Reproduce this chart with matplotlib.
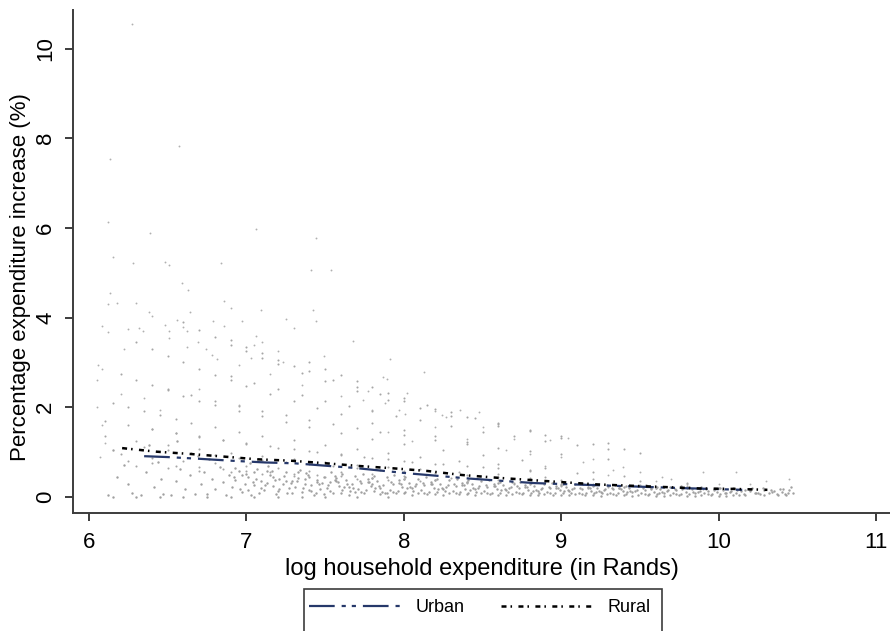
import matplotlib
matplotlib.use("Agg")
import matplotlib.pyplot as plt
from matplotlib.patches import Rectangle
from matplotlib.lines import Line2D

plt.rcParams['font.family'] = ['Liberation Sans', 'DejaVu Sans']
plt.rcParams['lines.scale_dashes'] = False

# ---------------- fitted lines ----------------
urban_x = [6.35, 6.50, 6.71, 6.90, 7.12, 7.31, 7.53, 7.68, 8.02, 8.42, 8.83, 9.25, 9.50, 9.75, 10.05, 10.15]
urban_y = [0.91, 0.89, 0.85, 0.81, 0.77, 0.75, 0.69, 0.65, 0.53, 0.41, 0.31, 0.26, 0.23, 0.20, 0.17, 0.16]
rural_x = [6.21, 6.43, 6.64, 6.86, 7.07, 7.28, 7.51, 7.72, 7.93, 8.15, 8.37, 8.59, 8.80, 9.01, 9.23, 9.45, 9.67, 9.88, 10.10, 10.31]
rural_y = [1.09, 1.01, 0.96, 0.90, 0.84, 0.81, 0.75, 0.69, 0.64, 0.58, 0.49, 0.43, 0.38, 0.33, 0.28, 0.25, 0.22, 0.19, 0.18, 0.16]

# ---------------- scatter: outlying points ----------------
out_x = [6.27, 6.57, 6.13, 6.12, 6.39, 7.06, 6.15, 6.28, 6.48, 6.51, 6.84, 7.44, 7.41, 7.54, 6.59, 6.63, 6.13,
         6.12, 6.18, 6.30, 6.38, 6.40, 6.64, 6.86, 6.90, 7.09, 7.42, 7.44, 7.25, 6.97, 6.79, 6.56, 6.08, 6.12,
         6.25, 6.32, 6.34, 6.48, 6.51, 6.60, 6.62, 6.51, 6.86, 7.30, 7.06, 7.10, 7.68, 7.91, 8.13, 7.87, 7.89,
         8.02, 6.22, 6.62, 6.69, 6.74, 6.78, 6.81, 7.05, 7.03, 7.23, 7.49, 7.77, 7.74, 7.97, 8.01, 8.20, 8.24,
         8.27, 8.36, 8.48, 7.88, 8.93, 9.04, 9.14, 9.33, 9.39, 9.64, 9.70, 9.90, 10.11, 10.45, 6.06, 6.08, 6.05,
         6.05, 6.08, 6.10, 6.07, 8.50, 8.70, 8.65, 8.80, 9.00, 9.20, 8.40, 8.90, 9.30, 9.50, 9.60, 9.80, 10.20,
         10.30, 10.00, 8.20, 8.05, 7.90, 6.20, 6.35, 6.45, 6.70, 6.95, 7.15, 7.35, 7.60, 7.80, 6.95, 7.20]
out_y = [10.55, 7.83, 7.54, 6.13, 5.89, 5.98, 5.35, 5.22, 5.24, 5.17, 5.22, 5.77, 5.06, 5.06, 4.77, 4.62, 4.55,
         4.30, 4.32, 4.32, 4.12, 4.04, 4.12, 4.37, 4.21, 4.17, 4.17, 3.92, 3.97, 3.92, 3.92, 3.95, 3.81, 3.68,
         3.75, 3.77, 3.70, 3.84, 3.70, 3.79, 3.70, 3.55, 3.81, 3.77, 3.59, 3.46, 3.48, 3.08, 2.79, 2.68, 2.63,
         2.32, 3.30, 3.34, 3.46, 3.30, 3.17, 3.08, 3.39, 3.10, 3.01, 3.14, 2.36, 2.16, 1.94, 1.85, 1.92, 1.83,
         1.78, 1.94, 1.90, 2.10, 1.27, 1.31, 0.78, 0.60, 0.67, 0.45, 0.41, 0.56, 0.56, 0.40, 2.94, 2.85, 2.61,
         2.00, 1.60, 1.20, 0.90, 1.55, 1.30, 1.05, 0.95, 0.90, 0.85, 1.30, 0.70, 0.50, 0.55, 0.35, 0.30, 0.30,
         0.35, 0.30, 1.55, 1.25, 1.45, 2.30, 2.20, 1.95, 2.40, 2.05, 2.75, 2.50, 2.25, 1.95, 2.95, 3.25]

# ---------------- scatter: streaks visible as curved rows ----------------
streak_x = [6.30, 6.40, 6.50, 6.60, 6.70, 6.80, 6.90, 7.00, 7.15, 7.30, 7.45, 7.60, 7.80, 8.00, 8.20, 8.40,
            6.20, 6.30, 6.40, 6.50, 6.60, 6.70, 6.80, 6.95, 7.10, 7.25, 7.40, 7.60, 7.80, 8.00, 8.25, 8.50, 8.75,
            6.15, 6.25, 6.35, 6.45, 6.55, 6.65, 6.80, 6.95, 7.10, 7.30, 7.50, 7.70, 7.90, 8.10, 8.35, 8.60, 8.90, 9.20,
            6.10, 6.25, 6.40, 6.55, 6.70, 6.85, 7.00, 7.20, 7.40, 7.60, 7.80, 8.00, 8.25, 8.50, 8.80, 9.10, 9.40,
            6.10, 6.30, 6.50, 6.70, 6.90, 7.10, 7.30, 7.50, 7.70, 7.90, 8.10, 8.35, 8.60, 8.90, 9.20, 9.50, 9.80,
            6.20, 6.40, 6.60, 6.80, 7.00, 7.20, 7.40, 7.60, 7.80, 8.00, 8.30, 8.60, 8.90, 9.20, 9.50, 9.80, 10.10,
            6.30, 6.50, 6.70, 6.90, 7.10, 7.30, 7.50, 7.70, 7.90, 8.10, 8.40, 8.70, 9.00, 9.30, 9.60, 9.90, 10.20,
            6.60, 6.70, 6.80, 6.90, 7.00, 7.10, 7.20, 7.35, 7.50, 7.70, 7.90, 8.10, 8.30, 8.60, 8.90,
            6.90, 7.00, 7.10, 7.20, 7.30, 7.40, 7.55, 7.70, 7.85, 8.00, 8.20, 8.40, 8.60, 8.80, 9.00, 9.30,
            7.40, 7.50, 7.60, 7.70, 7.80, 7.90, 8.00, 8.15, 8.30, 8.45, 8.60, 8.80, 9.00, 9.20, 9.40,
            6.40, 6.55, 6.70, 6.85, 7.00, 7.15, 7.30, 7.45, 7.60, 7.75, 7.90, 8.05, 8.20, 8.40, 8.60, 8.80,
            6.35, 6.50, 6.65, 6.80, 6.95, 7.10, 7.25, 7.40, 7.55, 7.70, 7.85, 8.00, 8.20, 8.40, 8.60, 8.80, 9.00,
            6.50, 6.65, 6.80, 6.95, 7.10, 7.25, 7.40, 7.55, 7.70, 7.85, 8.00, 8.20, 8.40, 8.60, 8.80, 9.00, 9.30,
            6.90, 7.05, 7.20, 7.35, 7.50, 7.65, 7.80, 7.95, 8.10, 8.30, 8.50, 8.70, 8.90, 9.10, 9.30, 9.50,
            6.25, 6.40, 6.55, 6.70, 6.85, 7.00, 7.15, 7.30, 7.45, 7.60, 7.80, 8.00, 8.20, 8.40, 8.70, 9.00, 9.30, 9.60]
streak_y = [3.45, 3.30, 3.15, 3.00, 2.86, 2.72, 2.60, 2.48, 2.30, 2.14, 1.98, 1.84, 1.66, 1.50, 1.35, 1.22,
            2.75, 2.62, 2.50, 2.38, 2.26, 2.15, 2.05, 1.92, 1.80, 1.68, 1.57, 1.43, 1.30, 1.18, 1.05, 0.93, 0.82,
            2.10, 2.00, 1.91, 1.82, 1.74, 1.66, 1.56, 1.46, 1.37, 1.26, 1.16, 1.07, 0.98, 0.90, 0.81, 0.73, 0.64, 0.56,
            1.70, 1.60, 1.51, 1.42, 1.34, 1.26, 1.19, 1.10, 1.02, 0.95, 0.88, 0.81, 0.74, 0.67, 0.60, 0.53, 0.47,
            1.35, 1.25, 1.15, 1.06, 0.98, 0.91, 0.84, 0.78, 0.72, 0.67, 0.62, 0.56, 0.51, 0.45, 0.40, 0.36, 0.32,
            0.95, 0.88, 0.81, 0.75, 0.69, 0.64, 0.59, 0.55, 0.51, 0.47, 0.42, 0.38, 0.34, 0.30, 0.27, 0.24, 0.21,
            0.70, 0.64, 0.59, 0.55, 0.51, 0.47, 0.44, 0.41, 0.38, 0.35, 0.32, 0.28, 0.25, 0.22, 0.20, 0.18, 0.16,
            3.90, 3.72, 3.56, 3.40, 3.25, 3.10, 2.96, 2.76, 2.58, 2.36, 2.16, 1.98, 1.81, 1.58, 1.38,
            3.50, 3.35, 3.20, 3.06, 2.93, 2.80, 2.62, 2.45, 2.29, 2.14, 1.96, 1.79, 1.64, 1.50, 1.37, 1.20,
            3.00, 2.85, 2.71, 2.58, 2.45, 2.33, 2.21, 2.05, 1.90, 1.76, 1.63, 1.47, 1.32, 1.19, 1.07,
            1.52, 1.43, 1.35, 1.27, 1.20, 1.13, 1.06, 1.00, 0.94, 0.89, 0.84, 0.79, 0.74, 0.69, 0.64, 0.59,
            1.12, 1.05, 0.99, 0.93, 0.88, 0.83, 0.78, 0.73, 0.69, 0.65, 0.61, 0.57, 0.53, 0.49, 0.45, 0.42, 0.39,
            2.40, 2.27, 2.15, 2.03, 1.92, 1.82, 1.72, 1.63, 1.54, 1.46, 1.38, 1.28, 1.19, 1.10, 1.02, 0.95, 0.85,
            2.70, 2.55, 2.41, 2.28, 2.15, 2.03, 1.92, 1.81, 1.71, 1.58, 1.46, 1.35, 1.25, 1.15, 1.06, 0.98,
            0.80, 0.75, 0.70, 0.66, 0.62, 0.58, 0.55, 0.52, 0.49, 0.46, 0.43, 0.40, 0.37, 0.34, 0.31, 0.28, 0.25, 0.22]

# ---------------- scatter: dense band near zero ----------------
band_x = [6.12, 6.18, 6.22, 6.27, 6.15, 6.25,
          6.33, 6.36, 6.41, 6.44, 6.47, 6.38, 6.46,
          6.52, 6.55, 6.58, 6.61, 6.64, 6.67, 6.69, 6.56,
          6.71, 6.73, 6.75, 6.78, 6.80, 6.83, 6.85, 6.87, 6.89, 6.76,
          6.91, 6.93, 6.95, 6.97, 6.99, 7.01, 7.03, 7.05, 7.07, 7.09, 7.02,
          7.11, 7.13, 7.15, 7.17, 7.19, 7.21, 7.23, 7.25, 7.27, 7.29, 7.14, 7.26,
          7.31, 7.33, 7.35, 7.37, 7.39, 7.41, 7.43, 7.45, 7.47, 7.49, 7.34, 7.46, 7.40,
          7.51, 7.53, 7.55, 7.57, 7.59, 7.61, 7.63, 7.65, 7.67, 7.69, 7.54, 7.62, 7.58, 7.66,
          7.71, 7.73, 7.75, 7.77, 7.79, 7.81, 7.83, 7.85, 7.87, 7.89, 7.74, 7.82, 7.78, 7.86,
          7.91, 7.93, 7.95, 7.97, 7.99, 8.01, 8.03, 8.05, 8.07, 8.09, 7.94, 8.02, 7.98, 8.06,
          8.11, 8.13, 8.15, 8.17, 8.19, 8.21, 8.23, 8.25, 8.27, 8.29, 8.14, 8.22, 8.18, 8.26,
          8.31, 8.33, 8.35, 8.37, 8.39, 8.41, 8.43, 8.45, 8.47, 8.49, 8.34, 8.42, 8.38, 8.46,
          8.51, 8.53, 8.55, 8.57, 8.59, 8.61, 8.63, 8.65, 8.67, 8.69, 8.54, 8.62, 8.58, 8.66,
          8.71, 8.73, 8.75, 8.77, 8.79, 8.81, 8.83, 8.85, 8.87, 8.89, 8.74, 8.82, 8.78, 8.86,
          8.91, 8.93, 8.95, 8.97, 8.99, 9.01, 9.03, 9.05, 9.07, 9.09, 8.94, 9.02, 8.98, 9.06,
          9.11, 9.13, 9.15, 9.17, 9.19, 9.21, 9.23, 9.25, 9.27, 9.29, 9.14, 9.22, 9.18, 9.26,
          9.31, 9.33, 9.35, 9.37, 9.39, 9.41, 9.43, 9.45, 9.47, 9.49, 9.34, 9.42, 9.38,
          9.51, 9.53, 9.55, 9.57, 9.59, 9.61, 9.63, 9.65, 9.67, 9.69, 9.54, 9.62,
          9.71, 9.73, 9.75, 9.77, 9.79, 9.81, 9.83, 9.85, 9.87, 9.89, 9.76,
          9.91, 9.93, 9.95, 9.97, 9.99, 10.01, 10.03, 10.05, 10.07, 10.09,
          10.11, 10.14, 10.17, 10.20, 10.23, 10.26, 10.29,
          10.32, 10.35, 10.38, 10.41, 10.44, 10.46, 10.43,
          6.15, 6.30, 6.45, 6.60, 6.75, 6.90, 7.05, 7.20, 7.35, 7.50, 7.70, 7.90,
          6.92, 6.96, 7.00, 7.04, 7.08, 7.06,
          7.12, 7.16, 7.20, 7.24, 7.28, 7.18,
          7.32, 7.36, 7.40, 7.44, 7.48, 7.38,
          7.52, 7.56, 7.60, 7.64, 7.68, 7.56,
          7.72, 7.76, 7.80, 7.84, 7.88, 7.80,
          7.92, 7.96, 8.00, 8.04, 8.08, 8.00,
          8.12, 8.16, 8.20, 8.24, 8.28, 8.20,
          8.32, 8.36, 8.40, 8.44, 8.48, 8.40,
          8.52, 8.56, 8.60, 8.64, 8.68, 8.60,
          8.72, 8.76, 8.80, 8.84, 8.88, 8.80,
          8.92, 8.96, 9.00, 9.04, 9.08, 9.00,
          9.12, 9.16, 9.20, 9.24, 9.28, 9.20,
          9.32, 9.36, 9.40, 9.44, 9.48, 9.40,
          9.52, 9.56, 9.60, 9.64, 9.68, 9.60,
          9.72, 9.76, 9.80, 9.84, 9.88, 9.80,
          9.92, 9.96, 10.00, 10.04, 10.08, 10.00,
          10.12, 10.16, 10.20, 10.24, 10.28,
          10.33, 10.37, 10.40, 10.45, 10.47,
          7.53, 7.57, 7.61, 7.65, 7.69,
          7.73, 7.77, 7.81, 7.85, 7.89,
          7.93, 7.97, 8.01, 8.05, 8.09,
          8.13, 8.17, 8.21, 8.25, 8.29,
          8.33, 8.37, 8.41, 8.45, 8.49,
          8.53, 8.57, 8.61, 8.65, 8.69,
          8.73, 8.77, 8.81, 8.85, 8.89,
          8.93, 8.97, 9.01, 9.05, 9.09,
          9.13, 9.17, 9.21, 9.25, 9.29,
          9.33, 9.37, 9.41, 9.45, 9.49,
          9.53, 9.57, 9.61, 9.65, 9.69,
          9.73, 9.77, 9.81, 9.85, 9.89,
          9.93, 9.97, 10.01, 10.05, 10.09,
          10.13, 10.17, 10.21, 10.25, 10.29,
          10.34, 10.39, 10.42,
          6.93, 6.97, 7.01, 7.05, 7.09,
          7.13, 7.17, 7.21, 7.25, 7.29,
          7.33, 7.37, 7.41, 7.45, 7.49]
band_y = [0.05, 0.45, 0.72, 0.08, 1.05, 0.30,
          0.04, 0.55, 0.22, 0.78, 0.06, 1.15, 0.40,
          0.05, 0.35, 0.62, 0.18, 0.48, 0.07, 0.92, 1.25,
          0.28, 0.55, 0.06, 0.41, 0.18, 0.66, 0.33, 0.05, 0.49, 0.85,
          0.22, 0.38, 0.58, 0.12, 0.30, 0.45, 0.05, 0.26, 0.62, 0.35, 0.75,
          0.15, 0.32, 0.48, 0.24, 0.06, 0.40, 0.28, 0.55, 0.19, 0.36, 0.68, 0.10,
          0.22, 0.42, 0.12, 0.30, 0.50, 0.26, 0.05, 0.37, 0.18, 0.45, 0.60, 0.28, 0.15,
          0.20, 0.33, 0.10, 0.42, 0.25, 0.16, 0.38, 0.05, 0.29, 0.47, 0.55, 0.22, 0.34, 0.13,
          0.18, 0.31, 0.09, 0.40, 0.24, 0.14, 0.35, 0.06, 0.27, 0.44, 0.52, 0.21, 0.33, 0.12,
          0.16, 0.28, 0.08, 0.37, 0.22, 0.12, 0.32, 0.05, 0.25, 0.41, 0.48, 0.19, 0.30, 0.14,
          0.15, 0.26, 0.07, 0.34, 0.20, 0.11, 0.30, 0.05, 0.23, 0.38, 0.44, 0.17, 0.28, 0.13,
          0.14, 0.24, 0.07, 0.31, 0.18, 0.10, 0.28, 0.04, 0.21, 0.35, 0.40, 0.16, 0.26, 0.12,
          0.13, 0.22, 0.06, 0.29, 0.17, 0.09, 0.26, 0.04, 0.19, 0.33, 0.37, 0.15, 0.24, 0.11,
          0.12, 0.20, 0.06, 0.27, 0.16, 0.09, 0.24, 0.04, 0.18, 0.30, 0.34, 0.14, 0.22, 0.10,
          0.11, 0.19, 0.05, 0.25, 0.15, 0.08, 0.22, 0.04, 0.17, 0.28, 0.31, 0.13, 0.20, 0.09,
          0.10, 0.18, 0.05, 0.23, 0.14, 0.08, 0.20, 0.03, 0.15, 0.26, 0.29, 0.12, 0.19, 0.08,
          0.10, 0.17, 0.04, 0.21, 0.13, 0.07, 0.19, 0.03, 0.14, 0.24, 0.27, 0.11, 0.17,
          0.09, 0.16, 0.04, 0.20, 0.12, 0.07, 0.18, 0.03, 0.13, 0.23, 0.26, 0.10,
          0.09, 0.15, 0.04, 0.19, 0.11, 0.06, 0.17, 0.03, 0.12, 0.22, 0.25,
          0.08, 0.14, 0.04, 0.18, 0.11, 0.06, 0.16, 0.03, 0.12, 0.21,
          0.08, 0.14, 0.04, 0.18, 0.10, 0.06, 0.15,
          0.09, 0.13, 0.05, 0.17, 0.10, 0.22, 0.04,
          0.00, 0.01, 0.00, 0.01, 0.00, 0.01, 0.00, 0.00, 0.01, 0.00, 0.01, 0.00,
          0.44, 0.17, 0.52, 0.33, 0.09, 0.41,
          0.27, 0.57, 0.13, 0.46, 0.31, 0.37,
          0.35, 0.20, 0.44, 0.09, 0.31, 0.53,
          0.27, 0.47, 0.08, 0.30, 0.19, 0.39,
          0.36, 0.15, 0.42, 0.25, 0.08, 0.30,
          0.33, 0.13, 0.40, 0.22, 0.30, 0.08,
          0.31, 0.12, 0.37, 0.20, 0.27, 0.07,
          0.29, 0.11, 0.34, 0.19, 0.25, 0.06,
          0.27, 0.10, 0.31, 0.18, 0.23, 0.05,
          0.25, 0.09, 0.29, 0.16, 0.21, 0.05,
          0.23, 0.09, 0.27, 0.15, 0.19, 0.04,
          0.21, 0.08, 0.25, 0.14, 0.18, 0.04,
          0.20, 0.08, 0.23, 0.13, 0.16, 0.04,
          0.19, 0.07, 0.21, 0.12, 0.15, 0.03,
          0.18, 0.07, 0.20, 0.11, 0.14, 0.03,
          0.17, 0.06, 0.19, 0.10, 0.13, 0.03,
          0.16, 0.06, 0.13, 0.09, 0.20,
          0.15, 0.07, 0.12, 0.15, 0.08,
          0.14, 0.36, 0.51, 0.23, 0.11,
          0.12, 0.34, 0.47, 0.21, 0.10,
          0.11, 0.31, 0.44, 0.19, 0.09,
          0.10, 0.29, 0.40, 0.18, 0.08,
          0.09, 0.27, 0.37, 0.17, 0.08,
          0.09, 0.25, 0.34, 0.15, 0.07,
          0.08, 0.23, 0.31, 0.14, 0.07,
          0.08, 0.21, 0.29, 0.13, 0.06,
          0.07, 0.20, 0.27, 0.12, 0.06,
          0.07, 0.19, 0.25, 0.11, 0.05,
          0.06, 0.18, 0.23, 0.10, 0.05,
          0.06, 0.17, 0.22, 0.10, 0.05,
          0.06, 0.16, 0.21, 0.09, 0.05,
          0.05, 0.15, 0.19, 0.09, 0.04,
          0.11, 0.18, 0.06,
          0.65, 0.48, 0.15, 0.55, 0.20,
          0.58, 0.44, 0.17, 0.36, 0.08,
          0.55, 0.40, 0.14, 0.33, 0.07]

x_ticks = [6, 7, 8, 9, 10, 11]
y_ticks = [0, 2, 4, 6, 8, 10]

W, H = 890, 631
fig = plt.figure(figsize=(W / 100, H / 100), dpi=100)
ax = fig.add_axes([73 / W, 1 - 513 / H, (W - 73) / W, (513 - 10) / H])

ax.scatter(band_x, band_y, s=3.0, color='#a0a0a0', linewidths=0, marker='o')
ax.scatter(streak_x, streak_y, s=2.2, color='#a6a6a6', linewidths=0, marker='o')
ax.scatter(out_x, out_y, s=1.8, color='#b0b0b0', linewidths=0, marker='o')

navy = '#26386a'
urban_dash = (0, (18.5, 5.0, 3.0, 4.3, 3.0, 5.0))
rural_dash = (0, (3.6, 2.9, 1.1, 4.6))
ax.plot(urban_x, urban_y, color=navy, lw=1.6, linestyle=urban_dash)
ax.plot(rural_x, rural_y, color='black', lw=1.8, linestyle=rural_dash)

ax.set_xlim(5.898, 11.089)
ax.set_ylim(-0.357, 10.86)
ax.set_xticks(x_ticks)
ax.set_yticks(y_ticks)
ax.set_xticklabels([str(v) for v in x_ticks], fontsize=16)
ax.set_yticklabels([str(v) for v in y_ticks], fontsize=16, rotation=90, va='center')
for s in ['top', 'right']:
    ax.spines[s].set_visible(False)
for s in ['left', 'bottom']:
    ax.spines[s].set_color('#3c3c3c')
    ax.spines[s].set_linewidth(1.4)
ax.tick_params(axis='both', direction='out', length=6, width=1.4, color='#3c3c3c')
ax.tick_params(axis='x', pad=8)
ax.tick_params(axis='y', pad=6)

ax.set_xlabel('log household expenditure (in Rands)', fontsize=17, labelpad=3)
ax.set_ylabel('Percentage expenditure increase (%)', fontsize=16)
ax.yaxis.set_label_coords(-0.051, 0.47)

# legend box (extends past the bottom edge like the reference)
fig.patches.append(Rectangle((304 / W, -0.05), (662 - 304) / W, (631 - 589) / H + 0.05,
                             transform=fig.transFigure, facecolor='white',
                             edgecolor='#3c3c3c', linewidth=1.2))
handles = [Line2D([], [], color=navy, lw=1.6, linestyle=urban_dash),
           Line2D([], [], color='black', lw=1.8, linestyle=rural_dash)]
fig.legend(handles, ['Urban', 'Rural'], loc='center', bbox_to_anchor=(480 / W, 1 - 608 / H),
           ncol=2, frameon=False, fontsize=13, handlelength=5.0, columnspacing=2.0,
           handletextpad=0.9)

fig.savefig('out.png', dpi=100)
